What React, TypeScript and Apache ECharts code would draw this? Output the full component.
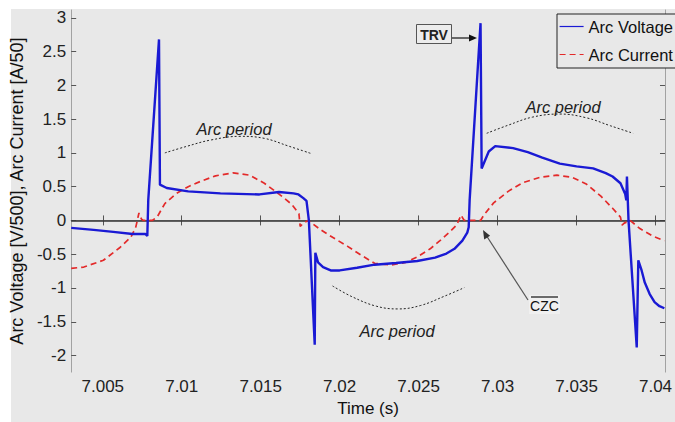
import React, { useEffect, useRef } from "react";
import * as echarts from "echarts";

// ---- data ----
const voltageT = [
  7.003, 7.00442, 7.00566, 7.00689, 7.00769, 7.00782, 7.00788, 7.00856, 7.00862, 7.00905,
  7.01041, 7.01245, 7.01492, 7.01616, 7.01708, 7.01739, 7.0177, 7.0179, 7.01805, 7.01842,
  7.01846, 7.01863, 7.01895, 7.01943, 7.02, 7.0211, 7.02221, 7.02357, 7.02491, 7.02604,
  7.02676, 7.02727, 7.02777, 7.02808, 7.02817, 7.02823, 7.02892, 7.02899, 7.02944, 7.02985,
  7.03098, 7.03191, 7.03283, 7.03394, 7.035, 7.03605, 7.03685, 7.03728, 7.03778, 7.03808,
  7.03815, 7.03819, 7.03829, 7.03881, 7.03891, 7.03912, 7.03932, 7.03963, 7.03994, 7.04025,
  7.04056,
];
const voltageV = [
  -0.11, -0.14, -0.17, -0.2, -0.2, -0.23, 0.3, 2.68, 0.53, 0.48,
  0.43, 0.4, 0.385, 0.42, 0.4, 0.385, 0.33, 0.29, 0.0, -1.84,
  -0.48, -0.62, -0.69, -0.74, -0.74, -0.7, -0.655, -0.63, -0.6, -0.55,
  -0.49, -0.42, -0.3, -0.18, -0.1, 0.3, 2.92, 0.77, 1.02, 1.1,
  1.07, 1.01, 0.93, 0.84, 0.8, 0.77, 0.7, 0.65, 0.55, 0.39,
  0.3, 0.65, 0.0, -1.88, -0.59, -0.74, -0.92, -1.09, -1.21, -1.27,
  -1.3,
];

const currentT = [
  7.003, 7.0038, 7.00504, 7.00609, 7.00677, 7.00708, 7.00729, 7.00745, 7.00757, 7.00813,
  7.00844, 7.00893, 7.00967, 7.01041, 7.01121, 7.01214, 7.01325, 7.0143, 7.01523, 7.01616,
  7.01696, 7.01742, 7.0175, 7.0177, 7.01801, 7.01881, 7.01955, 7.02048, 7.0214, 7.02221,
  7.02326, 7.02419, 7.02491, 7.02573, 7.02635, 7.02697, 7.0274, 7.02769, 7.02783, 7.02789,
  7.02892, 7.02913, 7.02975, 7.03067, 7.0316, 7.03271, 7.03376, 7.03469, 7.03561, 7.03654,
  7.03728, 7.03778, 7.03788, 7.03802, 7.03839, 7.03901, 7.03981, 7.04056,
];
const currentV = [
  -0.71, -0.69, -0.59, -0.4, -0.25, -0.11, 0.11, 0.02, 0.0, 0.0,
  0.05, 0.25, 0.4, 0.5, 0.58, 0.66, 0.705, 0.67, 0.55, 0.39,
  0.24, 0.1, -0.09, -0.04, 0.0, -0.14, -0.25, -0.38, -0.52, -0.635,
  -0.66, -0.62, -0.54, -0.42, -0.3, -0.17, -0.07, 0.08, 0.02, 0.0,
  0.0, 0.08, 0.26, 0.43, 0.56, 0.64, 0.67, 0.64, 0.54, 0.36,
  0.18, 0.05, -0.07, -0.04, 0.0, -0.12, -0.23, -0.3,
];

// dotted "Arc period" guide arcs
const arc1T = [7.00893, 7.01029, 7.01183, 7.01369, 7.01523, 7.01677, 7.0182];
const arc1V = [1.0, 1.095, 1.19, 1.245, 1.215, 1.1, 0.99];
const arc2T = [7.02931, 7.03067, 7.03222, 7.03394, 7.03561, 7.03716, 7.03858];
const arc2V = [1.29, 1.41, 1.53, 1.575, 1.52, 1.4, 1.29];
const arc3T = [7.01955, 7.02079, 7.02233, 7.02369, 7.02511, 7.02665, 7.02789];
const arc3V = [-0.97, -1.13, -1.27, -1.31, -1.26, -1.12, -0.995];

const xTicks = [7.005, 7.01, 7.015, 7.02, 7.025, 7.03, 7.035, 7.04];
const yTicks = [-2, -1.5, -1, -0.5, 0, 0.5, 1, 1.5, 2, 2.5, 3];

const X_MIN = 7.003;
const X_MAX = 7.0406;
const Y_MIN = -2.245;
const Y_MAX = 3.115;

const zip = (a: number[], b: number[]) => a.map((t, i) => [t, b[i]]);

const FONT = "'Liberation Sans', Arial, Helvetica, sans-serif";
const BG = "#e8e8e8";
const AXIS_GREY = "#a2a2a2";
const TICK = "#555";

export default function App() {
  const ref = useRef<HTMLDivElement>(null);

  useEffect(() => {
    if (!ref.current) return;
    const chart = echarts.init(ref.current, undefined, { renderer: "svg" });

    const tickCommon = { show: true, inside: true, length: 5, lineStyle: { color: TICK, width: 1 } };
    const arcSeries = (name: string, t: number[], v: number[]) => ({
      name,
      type: "line",
      data: zip(t, v),
      smooth: 0.4,
      symbol: "none",
      silent: true,
      lineStyle: { color: "#222", width: 1, type: [2, 2] },
      z: 3,
    });

    chart.setOption({
      animation: false,
      backgroundColor: "#ffffff",
      textStyle: { fontFamily: FONT },
      grid: { left: 67, top: 10, width: 609, height: 373, containLabel: false },
      legend: {
        show: true,
        data: ["Arc Voltage", "Arc Current"],
        orient: "vertical",
        left: 557,
        top: 14,
        itemWidth: 24,
        itemHeight: 14,
        itemGap: 11,
        padding: [4, 60, 5, 2],
        borderColor: "#222",
        borderWidth: 1,
        backgroundColor: BG,
        itemStyle: { opacity: 0 },
        lineStyle: { width: 1.2 },
        textStyle: { fontSize: 16.5, color: "#111", fontFamily: FONT },
      },
      xAxis: [
        {
          type: "value",
          min: X_MIN,
          max: X_MAX,
          position: "bottom",
          name: "Time (s)",
          nameLocation: "middle",
          nameGap: 21,
          nameTextStyle: { fontSize: 17, color: "#111", fontFamily: FONT },
          axisLine: { show: true, lineStyle: { color: AXIS_GREY, width: 1 } },
          axisTick: { ...tickCommon, customValues: xTicks },
          axisLabel: {
            show: true,
            customValues: xTicks,
            margin: 6,
            fontSize: 17,
            color: "#222",
            fontFamily: FONT,
            formatter: (v: number) => String(+v.toFixed(3)),
          },
          splitLine: { show: false },
        },
        {
          type: "value",
          min: X_MIN,
          max: X_MAX,
          position: "top",
          axisLine: { show: true, lineStyle: { color: AXIS_GREY, width: 1 } },
          axisTick: { ...tickCommon, customValues: xTicks },
          axisLabel: { show: false },
          splitLine: { show: false },
        },
      ],
      yAxis: [
        {
          type: "value",
          min: Y_MIN,
          max: Y_MAX,
          position: "left",
          name: "Arc Voltage [V/500], Arc Current [A/50]",
          nameLocation: "middle",
          nameGap: 38,
          nameTextStyle: { fontSize: 18, color: "#111", fontFamily: FONT },
          axisLine: { show: true, lineStyle: { color: AXIS_GREY, width: 1 } },
          axisTick: { ...tickCommon, customValues: yTicks },
          axisLabel: {
            show: true,
            customValues: yTicks,
            margin: 5,
            fontSize: 17,
            color: "#222",
            fontFamily: FONT,
            formatter: (v: number) => String(+v.toFixed(2)),
          },
          splitLine: { show: false },
        },
        {
          type: "value",
          min: Y_MIN,
          max: Y_MAX,
          position: "right",
          axisLine: { show: true, lineStyle: { color: AXIS_GREY, width: 1 } },
          axisTick: { ...tickCommon, customValues: yTicks },
          axisLabel: { show: false },
          splitLine: { show: false },
        },
      ],
      series: [
        {
          name: "Arc Current",
          type: "line",
          data: zip(currentT, currentV),
          symbol: "none",
          smooth: false,
          lineStyle: { color: "#e32a2a", width: 1.7, type: [6, 4] },
          itemStyle: { color: "#e32a2a" },
          z: 4,
          markLine: {
            silent: true,
            symbol: "none",
            label: { show: false },
            lineStyle: { color: "#333", width: 1.5, type: "solid" },
            data: [{ yAxis: 0 }],
            z: 2,
          },
        },
        {
          name: "Arc Voltage",
          type: "line",
          data: zip(voltageT, voltageV),
          symbol: "none",
          smooth: false,
          lineStyle: { color: "#1a1ad4", width: 2.4 },
          itemStyle: { color: "#1a1ad4" },
          z: 5,
        },
        arcSeries("arc1", arc1T, arc1V),
        arcSeries("arc2", arc2T, arc2V),
        arcSeries("arc3", arc3T, arc3V),
      ],
      graphic: [
        { type: "rect", z: -100, silent: true, shape: { x: 11, y: 9, width: 700, height: 450 }, style: { fill: BG } },
        // Arc period labels
        { type: "text", x: 234, y: 129, z: 10, style: { text: "Arc period", fontSize: 16.5, fontStyle: "italic", fontFamily: FONT, fill: "#222", align: "center", verticalAlign: "middle" } },
        { type: "text", x: 563, y: 107, z: 10, style: { text: "Arc period", fontSize: 16.5, fontStyle: "italic", fontFamily: FONT, fill: "#222", align: "center", verticalAlign: "middle" } },
        { type: "text", x: 397, y: 331, z: 10, style: { text: "Arc period", fontSize: 16.5, fontStyle: "italic", fontFamily: FONT, fill: "#222", align: "center", verticalAlign: "middle" } },
        // TRV box + arrow
        { type: "rect", z: 10, shape: { x: 416.5, y: 24.5, width: 35, height: 19 }, style: { fill: "#ececec", stroke: "#555", lineWidth: 1 } },
        { type: "text", x: 434, y: 34.5, z: 11, style: { text: "TRV", fontSize: 14, fontWeight: "bold", fontFamily: FONT, fill: "#222", align: "center", verticalAlign: "middle" } },
        { type: "line", z: 10, shape: { x1: 452, y1: 38, x2: 471, y2: 38 }, style: { stroke: "#111", lineWidth: 1.2 } },
        { type: "polygon", z: 10, shape: { points: [[477, 38], [469, 34.5], [469, 41.5]] }, style: { fill: "#111" } },
        // CZC box + arrow
        { type: "line", z: 10, shape: { x1: 528, y1: 300, x2: 486, y2: 235 }, style: { stroke: "#555", lineWidth: 1.2 } },
        { type: "polygon", z: 10, shape: { points: [[483, 230], [484.2, 239.5], [490.1, 235.7]] }, style: { fill: "#333" } },
        { type: "rect", z: 10, shape: { x: 529, y: 295, width: 31, height: 19 }, style: { fill: "#f0f0f0" } },
        { type: "text", x: 544.5, y: 306, z: 11, style: { text: "CZC", fontSize: 14, fontFamily: FONT, fill: "#111", align: "center", verticalAlign: "middle" } },
        { type: "line", z: 11, shape: { x1: 531, y1: 297, x2: 558, y2: 297 }, style: { stroke: "#111", lineWidth: 1.2 } },
      ],
    });

    return () => chart.dispose();
  }, []);

  return (
    <div style={{ position: "fixed", left: 0, top: 0, width: 675, height: 422, background: "#fff" }}>
      <div ref={ref} style={{ width: 675, height: 422 }} />
    </div>
  );
}
